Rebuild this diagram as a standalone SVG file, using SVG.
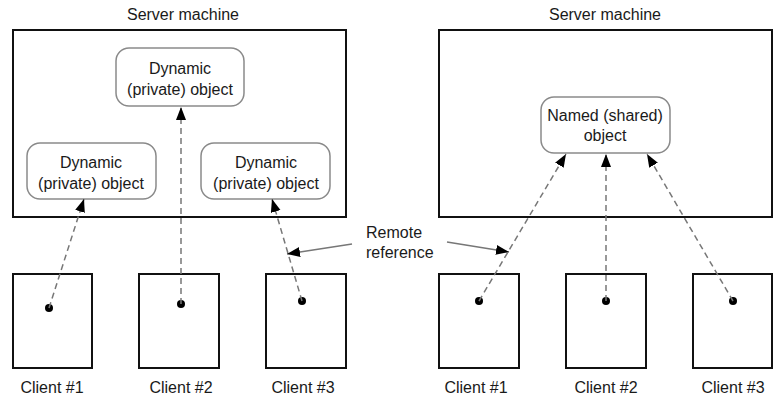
<svg xmlns="http://www.w3.org/2000/svg" width="783" height="401" viewBox="0 0 783 401">
<defs>
<style>
.t{font-family:"Liberation Sans",Arial,sans-serif;font-size:16px;fill:#1a1a1a;text-anchor:middle}
.tl{font-family:"Liberation Sans",Arial,sans-serif;font-size:16px;fill:#1a1a1a}
.box{fill:#fff;stroke:#111;stroke-width:2}
.obj{fill:#fff;stroke:#8a8a8a;stroke-width:1.5}
.ref{stroke:#777;stroke-width:1.5;stroke-dasharray:6,4;fill:none}
.lbl{stroke:#777;stroke-width:1.5;fill:none}
.dot{fill:#000}
</style>
<marker id="ah" markerUnits="userSpaceOnUse" markerWidth="14" markerHeight="12" refX="13" refY="5" orient="auto">
<path d="M0,0 L13,5 L0,10 Z" fill="#000"/>
</marker>
</defs>
<rect width="783" height="401" fill="#fff"/>

<g id="server-left">
<text class="t" x="183" y="20">Server machine</text>
<rect class="box" x="13" y="30" width="333" height="187"/>
</g>
<g id="obj-top">
<rect class="obj" x="116" y="48" width="128" height="58" rx="13"/>
<text class="t" x="180" y="74">Dynamic</text>
<text class="t" x="180" y="95">(private) object</text>
</g>
<g id="obj-left">
<rect class="obj" x="27" y="143" width="129" height="56" rx="13"/>
<text class="t" x="91" y="168">Dynamic</text>
<text class="t" x="91" y="189">(private) object</text>
</g>
<g id="obj-right">
<rect class="obj" x="201" y="143" width="129" height="56" rx="13"/>
<text class="t" x="266" y="168">Dynamic</text>
<text class="t" x="266" y="189">(private) object</text>
</g>

<g id="server-right">
<text class="t" x="605" y="20">Server machine</text>
<rect class="box" x="439" y="30" width="333" height="187"/>
</g>
<g id="obj-named">
<rect class="obj" x="541" y="97" width="129" height="56" rx="13"/>
<text class="t" x="605" y="121">Named (shared)</text>
<text class="t" x="605" y="141">object</text>
</g>

<g id="client-l1">
<rect class="box" x="13" y="274" width="79" height="94"/>
<circle class="dot" cx="49" cy="308" r="4"/>
<text class="t" x="52" y="393">Client #1</text>
</g>
<g id="client-l2">
<rect class="box" x="139" y="274" width="80" height="94"/>
<circle class="dot" cx="181" cy="304" r="4"/>
<text class="t" x="181" y="393">Client #2</text>
</g>
<g id="client-l3">
<rect class="box" x="266" y="274" width="80" height="94"/>
<circle class="dot" cx="302" cy="301" r="4"/>
<text class="t" x="303" y="393">Client #3</text>
</g>
<g id="client-r1">
<rect class="box" x="439" y="274" width="80" height="94"/>
<circle class="dot" cx="479" cy="301" r="4"/>
<text class="t" x="476" y="393">Client #1</text>
</g>
<g id="client-r2">
<rect class="box" x="566" y="274" width="80" height="94"/>
<circle class="dot" cx="606" cy="301" r="4"/>
<text class="t" x="606" y="393">Client #2</text>
</g>
<g id="client-r3">
<rect class="box" x="693" y="274" width="79" height="94"/>
<circle class="dot" cx="733" cy="301" r="4"/>
<text class="t" x="733" y="393">Client #3</text>
</g>

<g id="label-remote">
<text class="tl" x="366" y="238">Remote</text>
<text class="tl" x="366" y="258">reference</text>
</g>

<g id="connectors">
<line class="ref" x1="49" y1="308" x2="84" y2="199" marker-end="url(#ah)"/>
<line class="ref" x1="181" y1="304" x2="181" y2="107" marker-end="url(#ah)"/>
<line class="ref" x1="302" y1="301" x2="272" y2="199" marker-end="url(#ah)"/>
<line class="ref" x1="479" y1="301" x2="566" y2="154" marker-end="url(#ah)"/>
<line class="ref" x1="606" y1="301" x2="606" y2="154" marker-end="url(#ah)"/>
<line class="ref" x1="733" y1="301" x2="647" y2="154" marker-end="url(#ah)"/>
<line class="lbl" x1="352" y1="244" x2="287" y2="254" marker-end="url(#ah)"/>
<line class="lbl" x1="447" y1="242" x2="509" y2="252" marker-end="url(#ah)"/>
</g>
</svg>
